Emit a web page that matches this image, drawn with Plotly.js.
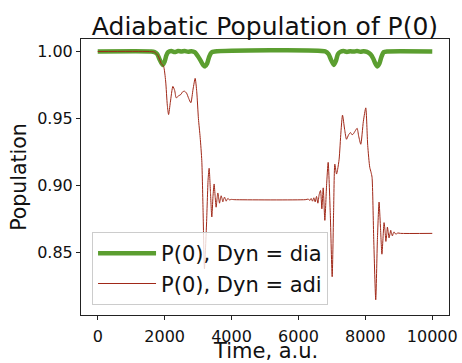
<!DOCTYPE html>
<html>
<head>
<meta charset="utf-8">
<script src="https://cdn.plot.ly/plotly-3.0.1.min.js"></script>
<style>html,body{margin:0;padding:0;background:#fff;}#chart{width:462px;height:363px;}</style>
</head>
<body>
<div id="chart"></div>
<script>
// Dynamics in diabatic basis (P(0), Dyn = dia)
var diaTime = [0,1600,1700,1780,1850,1938,2000,2050,2100,2200,2300,2400,2500,2600,2700,2800,2900,2980,3080,3150,3211,3270,3330,3400,3500,6800,6900,6970,7058,7120,7180,7250,7350,7450,7550,7650,7750,7850,7950,8050,8150,8230,8300,8360,8420,8480,8550,8650,10000];
var diaPop  = [1.0,1.0,0.9995,0.998,0.994,0.990,0.9925,0.997,0.9995,1.0003,0.9996,1.0003,1.0,1.0003,0.9998,1.0002,0.9995,0.997,0.993,0.990,0.9889,0.991,0.996,0.9993,1.0,1.0,0.998,0.994,0.990,0.993,0.998,0.9997,1.0003,0.9997,1.0002,0.9999,1.0003,0.9998,1.0002,0.9997,0.998,0.995,0.991,0.9889,0.991,0.996,0.9995,1.0,1.0];

// Dynamics in adiabatic basis (P(0), Dyn = adi)
var adiTime = [0,1500,1700,1800,1900,1968,2030,2080,2118,2170,2246,2300,2346,2420,2485,2540,2595,2655,2720,2783,2850,2912,2960,3010,3062,3111,3150,3190,3250,3300,3330,3370,3410,3445,3479,3510,3539,3565,3590,3615,3640,3665,3690,3715,3740,3765,3790,3815,3840,3870,3900,3940,3980,4100,6200,6300,6340,6380,6420,6460,6500,6540,6580,6620,6660,6700,6740,6789,6840,6888,6950,7008,7050,7087,7138,7170,7216,7270,7317,7380,7436,7500,7555,7600,7634,7700,7753,7800,7863,7940,8012,8070,8131,8170,8200,8250,8310,8360,8409,8450,8495,8530,8559,8590,8614,8640,8659,8685,8708,8735,8758,8783,8808,8833,8858,8890,8928,8970,9050,10000];
var adiPop  = [1.0,1.0,0.9995,0.997,0.991,0.989,0.978,0.960,0.953,0.962,0.974,0.971,0.9655,0.967,0.968,0.970,0.9704,0.969,0.965,0.9618,0.972,0.980,0.970,0.950,0.936,0.9186,0.880,0.838,0.870,0.905,0.913,0.895,0.8767,0.892,0.9013,0.892,0.884,0.890,0.8946,0.891,0.887,0.890,0.8925,0.8905,0.888,0.890,0.8915,0.890,0.8885,0.890,0.8905,0.8893,0.8898,0.8896,0.8896,0.890,0.889,0.8905,0.8885,0.891,0.888,0.892,0.887,0.8935,0.8964,0.8828,0.8984,0.8742,0.900,0.9174,0.880,0.8322,0.880,0.9161,0.9087,0.912,0.9198,0.940,0.9526,0.942,0.9346,0.938,0.9396,0.938,0.9384,0.941,0.9428,0.937,0.9309,0.948,0.958,0.930,0.9137,0.910,0.9063,0.860,0.815,0.860,0.8878,0.870,0.849,0.862,0.8725,0.866,0.8585,0.864,0.8692,0.865,0.8611,0.864,0.8668,0.8645,0.8626,0.8645,0.8656,0.8643,0.8641,0.8648,0.8645,0.8645];

var xTicks = [0,2000,4000,6000,8000,10000];
var xTickText = ['0','2000','4000','6000','8000','10000'];
var yTicks = [0.85,0.90,0.95,1.00];
var yTickText = ['0.85','0.90','0.95','1.00'];

var font = 'DejaVu Sans, sans-serif';

var traces = [
  {x: diaTime, y: diaPop, mode: 'lines', name: 'P(0), Dyn = dia',
   line: {color: '#5b9e30', width: 4.5, shape: 'spline', smoothing: 0.6}},
  {x: adiTime, y: adiPop, mode: 'lines', name: 'P(0), Dyn = adi',
   line: {color: '#a02818', width: 1, shape: 'spline', smoothing: 0.6}}
];

var axisCommon = {
  showline: true, mirror: true, linecolor: '#222', linewidth: 1,
  ticks: 'outside', ticklen: 4, tickcolor: '#222', tickwidth: 1,
  showgrid: false, zeroline: false,
  tickfont: {family: font, size: 16, color: '#111'}
};

var layout = {
  width: 462, height: 363,
  margin: {l: 81, r: 13, t: 39, b: 48},
  paper_bgcolor: '#fff', plot_bgcolor: '#fff',
  font: {family: font, color: '#111'},
  title: {text: 'Adiabatic Population of P(0)', font: {family: font, size: 25, color: '#111'},
          x: 0.5, xref: 'paper', xanchor: 'center', y: 0.929, yref: 'container', yanchor: 'middle'},
  xaxis: Object.assign({}, axisCommon, {
    range: [-500, 10500], tickvals: xTicks, ticktext: xTickText, ticklabelstandoff: 3
  }),
  yaxis: Object.assign({}, axisCommon, {
    range: [0.8037, 1.0093], tickvals: yTicks, ticktext: yTickText,
    title: {text: 'Population', font: {family: font, size: 20.5, color: '#111'}, standoff: 4}
  }),
  annotations: [{
    text: 'Time, a.u.', xref: 'paper', yref: 'paper', x: 0.5, y: -0.1295,
    xanchor: 'center', yanchor: 'middle', showarrow: false,
    font: {family: font, size: 21, color: '#111'}
  }],
  legend: {x: 0.03, y: 0.036, xanchor: 'left', yanchor: 'bottom',
           bgcolor: 'rgba(255,255,255,0.8)', bordercolor: '#cccccc', borderwidth: 1,
           font: {family: font, size: 21, color: '#111'}, itemwidth: 58, tracegroupgap: 0},
  showlegend: true
};

Plotly.newPlot('chart', traces, layout, {staticPlot: true, displayModeBar: false});
</script>
</body>
</html>
